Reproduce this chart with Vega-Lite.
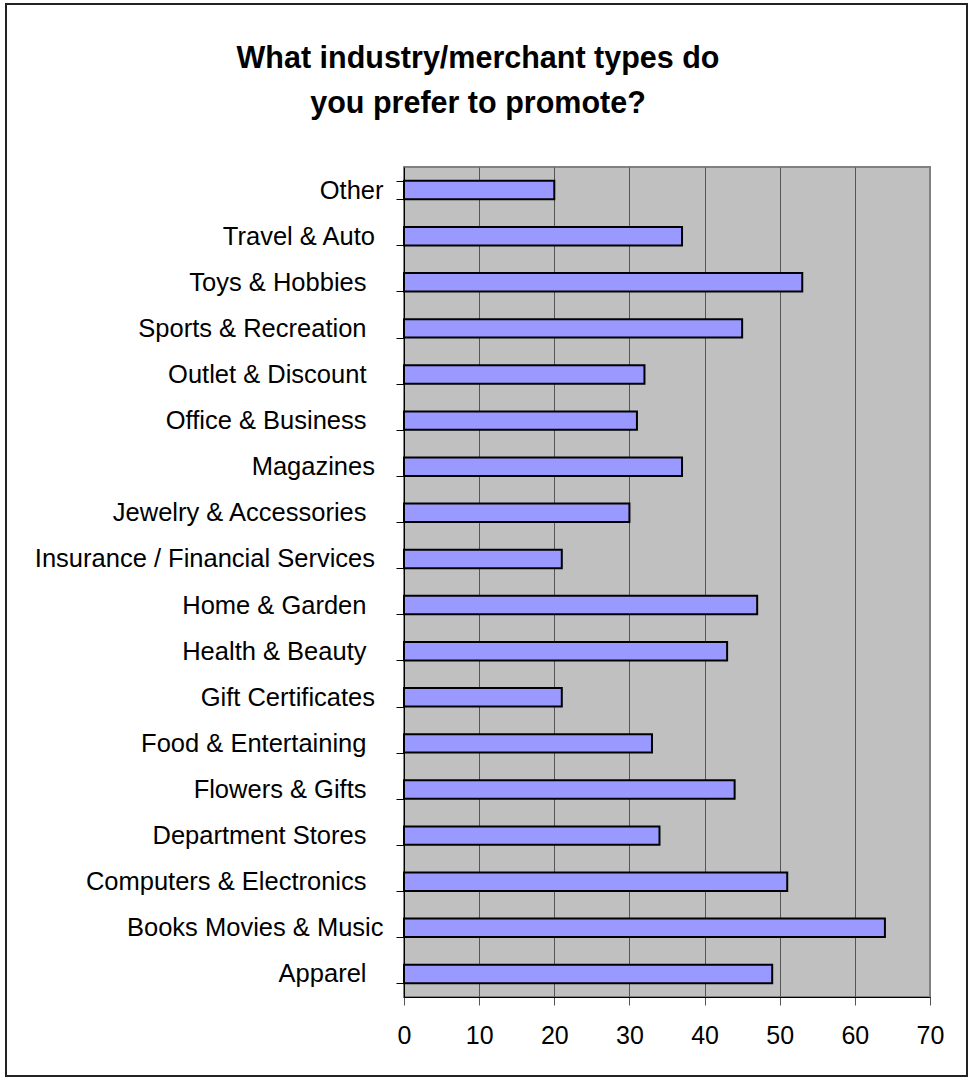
{
  "$schema": "https://vega.github.io/schema/vega-lite/v6.json",
  "autosize": "none",
  "width": 526,
  "height": 830,
  "padding": {"left": 404, "top": 167, "right": 41, "bottom": 83},
  "background": "white",
  "title": {
    "text": ["What industry/merchant types do", "you prefer to promote?"],
    "font": "Liberation Sans",
    "fontSize": 30.5,
    "fontWeight": "bold",
    "color": "black",
    "anchor": "middle",
    "frame": "group",
    "dx": -189,
    "offset": -115,
    "lineHeight": 45
  },
  "data": {
    "values": [
      {"category": "Other", "value": 20},
      {"category": "Travel & Auto", "value": 37},
      {"category": "Toys & Hobbies", "value": 53},
      {"category": "Sports & Recreation", "value": 45},
      {"category": "Outlet & Discount", "value": 32},
      {"category": "Office & Business", "value": 31},
      {"category": "Magazines", "value": 37},
      {"category": "Jewelry & Accessories", "value": 30},
      {"category": "Insurance / Financial Services", "value": 21},
      {"category": "Home & Garden", "value": 47},
      {"category": "Health & Beauty", "value": 43},
      {"category": "Gift Certificates", "value": 21},
      {"category": "Food & Entertaining", "value": 33},
      {"category": "Flowers & Gifts", "value": 44},
      {"category": "Department Stores", "value": 34},
      {"category": "Computers & Electronics", "value": 51},
      {"category": "Books Movies & Music", "value": 64},
      {"category": "Apparel", "value": 49}
    ]
  },
  "encoding": {
    "y": {
      "field": "category",
      "type": "nominal",
      "sort": null,
      "scale": {"paddingInner": 0.6, "paddingOuter": 0.3},
      "axis": {
        "title": null,
        "tickBand": "extent",
        "tickSize": 8,
        "tickColor": "black",
        "domainColor": "black",
        "labelFont": "Liberation Sans",
        "labelFontSize": 25.5,
        "labelColor": "black",
        "labelPadding": 13,
        "labelLimit": 500,
        "labelExpr": "indexof(['Other','Books Movies & Music'], datum.value) >= 0 ? datum.label : (indexof(['Travel & Auto','Magazines','Insurance / Financial Services','Gift Certificates'], datum.value) >= 0 ? datum.label + '\u2004\u200b' : datum.label + '\u2004\u2004\u200b')",
        "grid": false
      }
    },
    "x": {
      "field": "value",
      "type": "quantitative",
      "scale": {"domain": [0, 70], "nice": false},
      "axis": {
        "title": null,
        "values": [0, 10, 20, 30, 40, 50, 60, 70],
        "tickSize": 8,
        "tickColor": "#555555",
        "domainColor": "black",
        "labelFont": "Liberation Sans",
        "labelFontSize": 25,
        "labelColor": "black",
        "labelPadding": 18,
        "labelFlush": false,
        "grid": true,
        "gridColor": {"condition": {"test": "datum.value === 0 || datum.value === 70", "value": "transparent"}, "value": "#555555"},
        "gridWidth": 1
      }
    }
  },
  "layer": [
    {
      "mark": {"type": "bar", "fill": "#9999FF", "stroke": "black", "strokeWidth": 2}
    },
    {
      "mark": {"type": "bar", "opacity": 0},
      "encoding": {
        "color": {
          "field": "value",
          "type": "quantitative",
          "scale": {"range": ["rgba(0,0,0,0)", "rgba(0,0,0,0)"]},
          "legend": {
            "orient": "none",
            "legendX": -398,
            "legendY": -163,
            "direction": "horizontal",
            "gradientLength": 961,
            "gradientThickness": 1072,
            "gradientStrokeColor": "#222222",
            "gradientStrokeWidth": 2,
            "labelExpr": "''",
            "title": null,
            "padding": 0
          }
        }
      }
    }
  ],
  "config": {
    "view": {"fill": "#C0C0C0", "stroke": "#808080", "strokeWidth": 2}
  }
}
